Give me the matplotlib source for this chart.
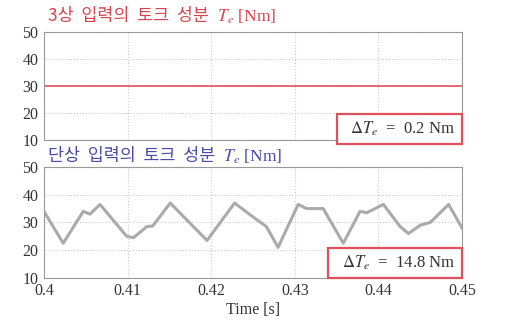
import numpy as np
import matplotlib
matplotlib.use("Agg")
import matplotlib.pyplot as plt

plt.rcParams['font.family'] = ['Liberation Serif', 'Noto Sans CJK KR', 'DejaVu Sans']
plt.rcParams['mathtext.fontset'] = 'stix'

# three-phase torque (flat)
t_3ph = [0.40, 0.45]
T_3ph = [30.0, 30.0]

# single-phase torque (ripple)
t_1ph = [0.4000, 0.4023, 0.4047, 0.4055, 0.4067, 0.4099, 0.4107, 0.4123, 0.4130,
         0.4151, 0.4195, 0.4228, 0.4250, 0.4266, 0.4280, 0.4304, 0.4314, 0.4334,
         0.4358, 0.4378, 0.4386, 0.4406, 0.4426, 0.4436, 0.4450, 0.4462, 0.4484, 0.4500]
T_1ph = [34.0, 22.5, 34.0, 33.0, 36.5, 25.0, 24.5, 28.5, 28.7,
         37.0, 23.5, 37.0, 32.0, 28.5, 21.0, 36.5, 35.0, 35.0,
         22.5, 34.0, 33.5, 36.5, 28.5, 26.0, 29.0, 30.0, 36.5, 28.0]

x_ticks = [0.40, 0.41, 0.42, 0.43, 0.44, 0.45]
x_labels = ['0.4', '0.41', '0.42', '0.43', '0.44', '0.45']
y_ticks = [10, 20, 30, 40, 50]

title_top = '3상  입력의  토크  성분'
title_bot = '단상  입력의  토크  성분'
title_unit = '  $T_e$ [Nm]'
box_top = r'  $\Delta T_e$  =  0.2 Nm '
box_bot = r'  $\Delta T_e$  =  14.8 Nm '

fig = plt.figure(figsize=(5.09, 3.34), dpi=100)
ax1 = fig.add_axes([0.0864, 0.581, 0.8213, 0.323])
ax2 = fig.add_axes([0.0864, 0.168, 0.8213, 0.332])

for ax in (ax1, ax2):
    ax.set_xlim(0.40, 0.45)
    ax.set_ylim(10, 50)
    ax.set_xticks(x_ticks)
    ax.set_yticks(y_ticks)
    ax.grid(True, color='#cccccc', linestyle=':', linewidth=0.8)
    ax.tick_params(direction='in', length=0, labelsize=11.5, colors='#333333', pad=4)
    for s in ax.spines.values():
        s.set_color('#999999')
        s.set_linewidth(0.8)

ax1.plot(t_3ph, T_3ph, color='#e0505a', linewidth=1.2)
ax1.set_xticklabels([])
ax2.plot(t_1ph, T_1ph, color='#aaaaaa', linewidth=2.2)
ax2.set_xticklabels(x_labels)
ax2.set_xlabel('Time [s]', fontsize=11.5, color='#333333', labelpad=2)

# titles: Korean part in a CJK font, unit part in serif math
for ypos, txt, col in [(0.953, title_top, '#d9434f'), (0.533, title_bot, '#4a4aa8')]:
    t1 = fig.text(0.094, ypos, txt, color=col, fontsize=12.5, va='center',
                  family='Noto Sans CJK KR')
    ax2.annotate(title_unit, xy=(1, 0.45), xycoords=t1, va='center',
                 color=col, fontsize=12.5, annotation_clip=False)

bbox = dict(boxstyle='square,pad=0.35', facecolor='white', edgecolor='#e0505a', linewidth=1.6)
ax1.text(0.985, 0.02, box_top, transform=ax1.transAxes, ha='right', va='bottom',
         fontsize=12, color='#333333', bbox=bbox)
ax2.text(0.985, 0.05, box_bot, transform=ax2.transAxes, ha='right', va='bottom',
         fontsize=12, color='#333333', bbox=bbox)

fig.savefig('out.png', dpi=100)
